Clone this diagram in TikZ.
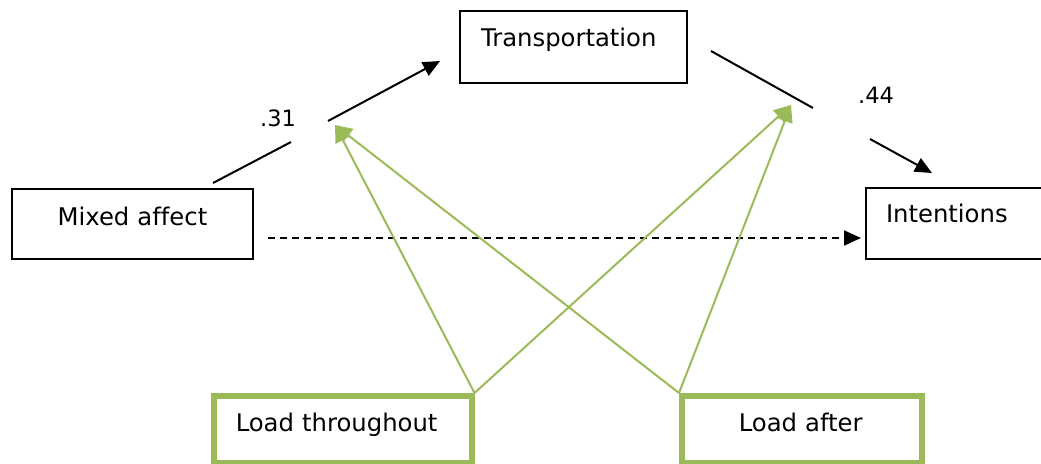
\documentclass[tikz,border=0pt]{standalone}
\usepackage{fontspec}
\setmainfont[Ligatures=NoCommon]{DejaVu Sans}
\usetikzlibrary{arrows.meta}
\definecolor{loadgreen}{RGB}{155,187,89}
\tikzset{
  box/.style={draw, line width=2pt, anchor=north west, inner ysep=0pt, align=left,
    font=\fontsize{24.3}{29}\selectfont},
  loadbox/.style={box, draw=loadgreen, line width=5.5pt},
  coef/.style={font=\fontsize{22.5}{27}\selectfont},
  effect/.style={line width=2pt},
  effarrow/.style={effect, -{Triangle[length=17pt,width=15pt]}},
  modarrow/.style={draw=loadgreen, line width=2pt, -{Triangle[length=17pt,width=16pt]}}
}

\begin{document}
\begin{tikzpicture}[x=1pt,y=-1pt]
		\useasboundingbox (0,0) rectangle (1041,463);
		\clip (0,0) rectangle (1041,463);
		% boxes
		\node[box, inner xsep=21pt, text width=185pt, text height=35pt, text depth=37pt] (trans) at (459,10) {Transportation};
		\node[box, align=center, inner xsep=10pt, text width=221pt, text height=36pt, text depth=34pt] (mixed) at (11,188) {Mixed affect};
		\node[box, inner xsep=20pt, text width=170pt, text height=34pt, text depth=37pt] (intent) at (865,187) {Intentions};
		\node[loadbox, inner xsep=22pt, text width=214pt, text height=36pt, text depth=31pt] (thr) at (211,393) {Load throughout};
		\node[loadbox, inner xsep=57pt, text width=126pt, text height=36pt, text depth=31pt] (after) at (679,393) {Load after};
		% coefficients
		\node[coef] (c31) at (278,118) {.31};
		\node[coef] (c44) at (876,95) {.44};
		% ends of the broken paths
		\coordinate (m1) at (213,183);
		\coordinate (m2) at (291,142);
		\coordinate (m3) at (328,121);
		\coordinate (m4) at (440,61);
		\coordinate (t1) at (711,51);
		\coordinate (t2) at (813,108);
		\coordinate (t3) at (870,139);
		\coordinate (t4) at (932,173);
		\coordinate (d1) at (268,238);
		\coordinate (d2) at (861,238);
		\coordinate (g1) at (335,125);
		\coordinate (g2) at (791,105);
		\draw[effect] (m1) -- (m2);
		\draw[effarrow] (m3) -- (m4);
		\draw[effect] (t1) -- (t2);
		\draw[effarrow] (t3) -- (t4);
		\draw[effarrow, dash pattern=on 7pt off 5pt] (d1) -- (d2);
		% moderation
		\draw[modarrow] (thr.north east) -- (g1);
		\draw[modarrow] (thr.north east) -- (g2);
		\draw[modarrow] (after.north west) -- (g1);
		\draw[modarrow] (after.north west) -- (g2);
	\end{tikzpicture}
\end{document}
